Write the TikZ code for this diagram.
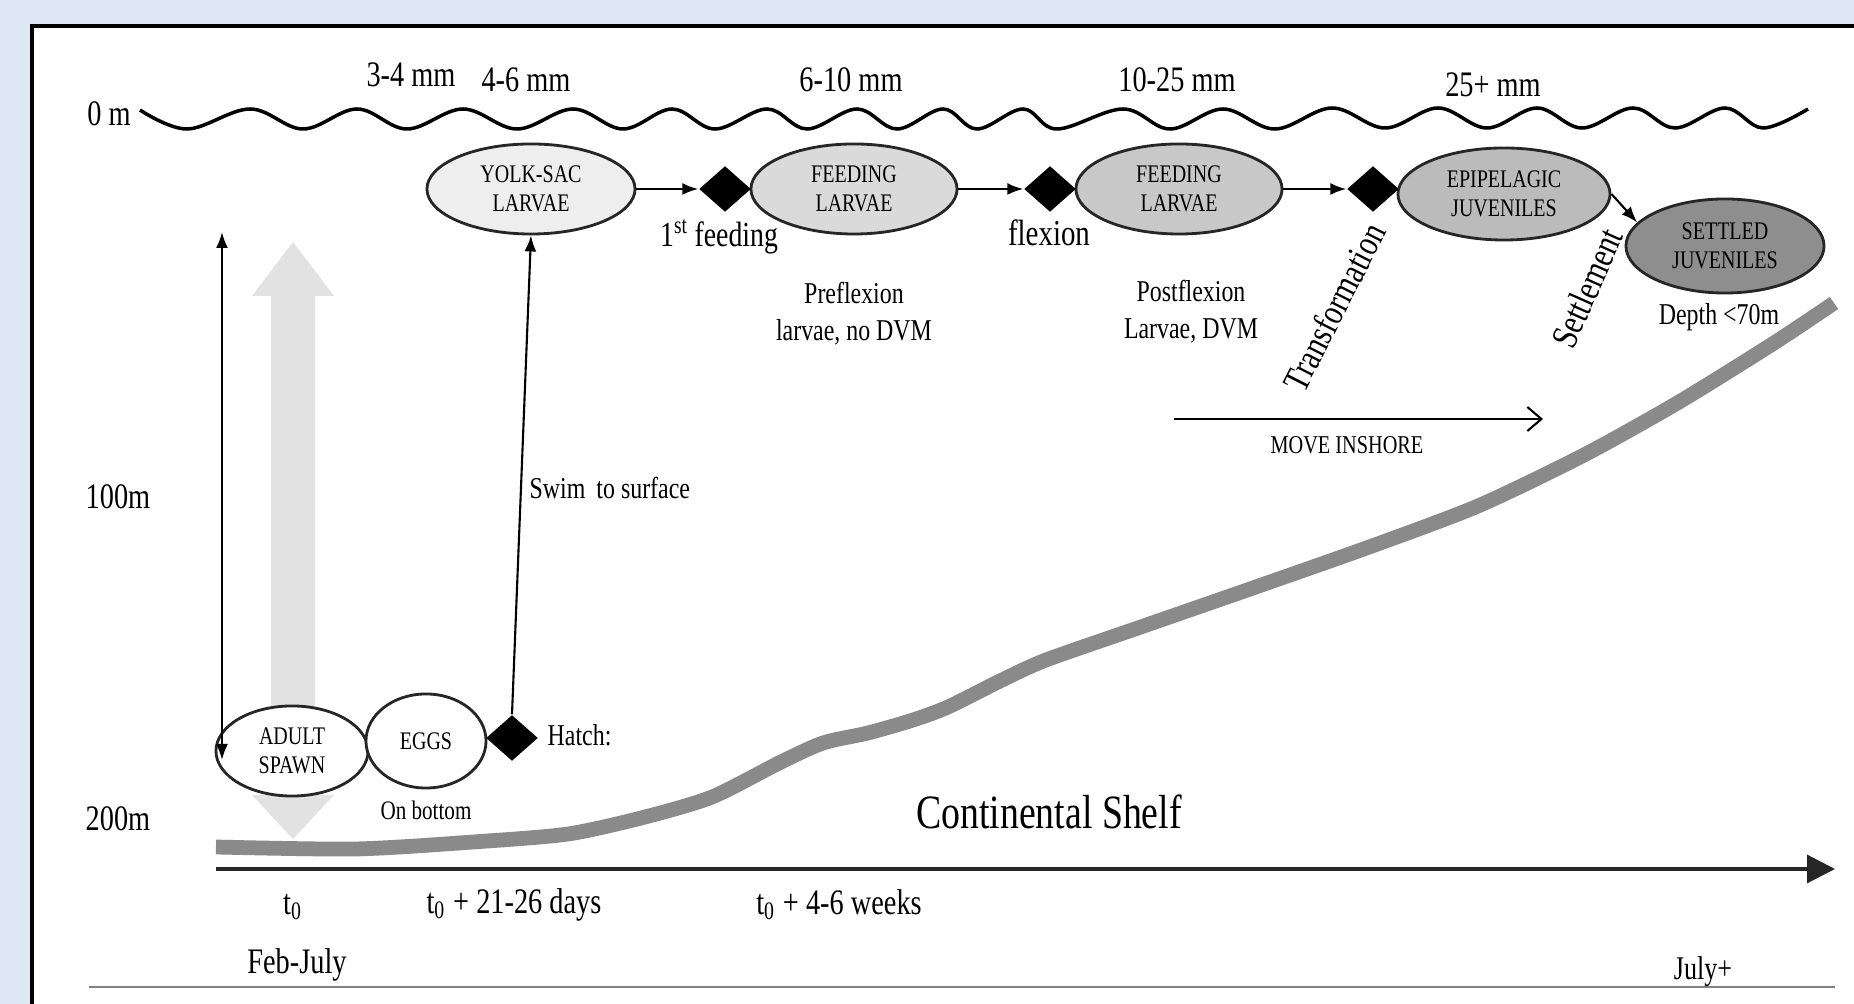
\documentclass[tikz,border=0pt]{standalone}
\usepackage{fontspec}
\setmainfont{Liberation Serif}[FakeStretch=0.79]
\usetikzlibrary{arrows.meta,shapes.geometric}
\definecolor{bgblue}{HTML}{DEE9F5}
\definecolor{armgray}{HTML}{E2E2E2}
\definecolor{bedgray}{HTML}{8A8A8A}
\definecolor{fyolk}{HTML}{EEEEEE}
\definecolor{ffeedA}{HTML}{DADADA}
\definecolor{ffeedB}{HTML}{C8C8C8}
\definecolor{fepi}{HTML}{BBBBBB}
\definecolor{fset}{HTML}{8E8E8E}
\tikzset{
  stage/.style={ellipse, draw=black!85, line width=0.8pt, inner sep=0pt, align=center,
    font=\fontsize{7.2}{8.2}\selectfont},
  gem/.style={diamond, fill=black, inner sep=0pt, minimum width=0.52cm, minimum height=0.46cm},
  big/.style={font=\fontsize{10.2}{12}\selectfont, inner sep=0pt},
  mid/.style={font=\fontsize{8.6}{10.6}\selectfont, inner sep=0pt, align=center},
  small/.style={font=\fontsize{7.3}{9}\selectfont, inner sep=0pt},
  conn/.style={line width=0.6pt, -{Latex[length=0.16cm,width=0.12cm]}},
}
\begin{document}
\begin{tikzpicture}[x=0.01cm,y=-0.01cm]
\useasboundingbox (0,0) rectangle (1854,1004);
% background and frame
\fill[bgblue] (0,0) rectangle (1854,1004);
\fill[white] (32,26) rectangle (1854,1004);
\draw[line width=1.1pt] (32,1004) -- (32,26) -- (1854,26);
\draw[gray, line width=0.6pt] (89,987) -- (1835,987);

% big light gray double arrow
\fill[armgray] (293,242) -- (334,296) -- (315,296) -- (315,795) -- (334,795) -- (293,839)
  -- (252,795) -- (271,795) -- (271,296) -- (252,296) -- cycle;

% sea bed
\draw[bedgray, line width=4.2pt] plot[smooth, tension=0.45] coordinates {
 (216,847) (355,849) (473,842) (568,834) (645,817) (712,797) (779,763) (823,743)
 (868,733) (913,720) (948,707) (1002,680) (1046,660) (1135,629) (1253,588) (1372,546)
 (1478,506) (1584,455) (1679,402) (1774,343) (1834,303)};

% sea surface
\draw[line width=1pt] plot[smooth, tension=0.6] coordinates {
 (140,110) (187,129) (250,109) (303,129) (357,109) (407,129) (463,109) (517,129)
 (573,109) (623,129) (672,109) (715,129) (767,109) (807,129) (857,109) (897,129)
 (943,109) (977,129) (1023,109) (1057,129) (1123,109) (1170,129) (1223,109) (1275,129)
 (1332,108) (1385,128) (1438,108) (1487,128) (1537,108) (1582,128) (1633,108)
 (1675,128) (1725,108) (1763,128) (1808,109)};

% depth labels
\node[big] (d0) at (109,114) {0 m};
\node[big] (d100) at (118,497) {100m};
\node[big] (d200) at (118,819) {200m};

% size labels
\node[big] (s1) at (411,75) {3-4 mm};
\node[big] (s2) at (526,80) {4-6 mm};
\node[big] (s3) at (851,80) {6-10 mm};
\node[big] (s4) at (1177,80) {10-25 mm};
\node[big] (s5) at (1493,85) {25+ mm};

% stages
\node[stage, fill=fyolk, minimum width=2.08cm, minimum height=0.90cm] (yolk) at (531,189) {YOLK-SAC\\LARVAE};
\node[stage, fill=ffeedA, minimum width=2.06cm, minimum height=0.90cm] (feedA) at (854,189) {FEEDING\\LARVAE};
\node[stage, fill=ffeedB, minimum width=2.06cm, minimum height=0.90cm] (feedB) at (1179,189) {FEEDING\\LARVAE};
\node[stage, fill=fepi, minimum width=2.12cm, minimum height=0.92cm] (epi) at (1504,194) {EPIPELAGIC\\JUVENILES};
\node[stage, fill=fset, minimum width=1.98cm, minimum height=0.94cm] (set) at (1725,246) {SETTLED\\JUVENILES};
\node[stage, fill=white, minimum width=1.52cm, minimum height=0.90cm] (adult) at (292,751) {ADULT\\SPAWN};
\node[stage, fill=white, minimum width=1.20cm, minimum height=0.94cm] (eggs) at (426,741) {EGGS};

% transitions
\node[gem] (dA) at (725,189) {};
\node[gem] (dB) at (1050,189) {};
\node[gem] (dC) at (1373,189) {};
\node[gem] (hatch) at (512,738) {};

\draw[conn] (yolk.east) -- (dA.west);
\draw[conn] (feedA.east) -- (dB.west);
\draw[conn] (feedB.east) -- (dC.west);
\draw[conn] (epi.east) -- (set.165);
\draw[conn] (hatch.north) -- (yolk.south);

% vertical migration arrow
\coordinate (vtop) at (222,232);
\coordinate (vbot) at (222,760);
\draw[line width=0.6pt, {Latex[length=0.16cm,width=0.12cm]}-{Latex[length=0.16cm,width=0.12cm]}] (vtop) -- (vbot);

% labels
\node[big, font=\fontsize{10}{12}\selectfont] (lfeed) at (719,237) {1\textsuperscript{st}\,feeding};
\node[big, font=\fontsize{10.4}{12}\selectfont] (lflex) at (1049,233) {flexion};
\node[big, font=\fontsize{10.6}{12}\selectfont, rotate=63] (ltrans) at (1334,307) {Transformation};
\node[big, font=\fontsize{10.6}{12}\selectfont, rotate=66] (lsettle) at (1587,288) {Settlement};
\node[mid] (lpre) at (854,314) {Preflexion\\larvae, no DVM};
\node[mid] (lpost) at (1191,312) {Postflexion\\Larvae, DVM};
\node[mid] (ldepth) at (1719,317) {Depth <70m};
\node[mid, anchor=west] (lswim) at (529,488) {Swim\, to surface};
\node[mid, anchor=west] (lhatch) at (547,735) {Hatch:};
\node[small, font=\fontsize{7.6}{9}\selectfont] (lbottom) at (426,810) {On bottom};

% move inshore
\coordinate (mi1) at (1174,419);
\coordinate (mi2) at (1543,419);
\draw[line width=0.6pt, -{Straight Barb[length=0.14cm,width=0.24cm]}] (mi1) -- (mi2);
\node[small] (lmove) at (1347,445) {MOVE INSHORE};

% shelf label
\node[inner sep=0pt, font=\fontsize{13.6}{16}\selectfont] (lshelf) at (1049,812) {Continental Shelf};

% time axis
\coordinate (t1) at (216,869);
\coordinate (t2) at (1835,869);
\draw[black!85, line width=0.9pt, -{Triangle[length=0.28cm,width=0.28cm]}] (t1) -- (t2);
\node[big] (lt0) at (293,907) {t\textsubscript{0}};
\node[big] (lt1) at (514,905) {t\textsubscript{0} + 21-26 days};
\node[big] (lt2) at (839,905) {t\textsubscript{0} + 4-6 weeks};
\node[big] (lfeb) at (297,965) {Feb-July};
\node[big, font=\fontsize{9.4}{11}\selectfont] (ljuly) at (1703,972) {July+};
\end{tikzpicture}
\end{document}
